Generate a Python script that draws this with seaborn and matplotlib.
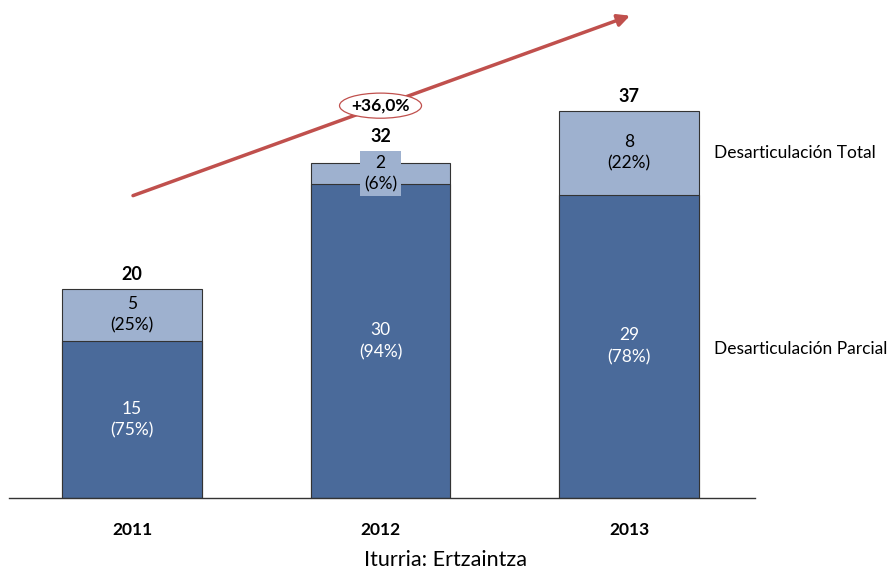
import matplotlib
matplotlib.use("Agg")
import matplotlib.pyplot as plt
import seaborn as sns
import pandas as pd
from matplotlib.patches import Ellipse

years = ["2011", "2012", "2013"]
parcial = [15, 30, 29]
total = [5, 2, 8]
parcial_pct = ["75%", "94%", "78%"]
total_pct = ["25%", "6%", "22%"]
sums = [20, 32, 37]
growth_label = "+36,0%"
legend_labels = ["Desarticulación Total", "Desarticulación Parcial"]
source = "Iturria: Ertzaintza"

dark = "#4A6A9A"
light = "#9EB1CF"
red = "#C0504D"

sns.set_theme(style="white")
plt.rcParams['font.family'] = ['Lato', 'DejaVu Sans']

df = pd.DataFrame({"year": years, "parcial": parcial, "total": total,
                   "sum": sums})

fig = plt.figure(figsize=(8.91, 5.72), dpi=100)
ax = fig.add_axes([0.0101, 0.1294, 0.8373, 0.8706])

sns.barplot(data=df, x="year", y="sum", color=light, width=0.56,
            edgecolor="#333333", linewidth=0.8, saturation=1, ax=ax)
sns.barplot(data=df, x="year", y="parcial", color=dark, width=0.56,
            edgecolor="#333333", linewidth=0.8, saturation=1, ax=ax)

ax.set_xlim(-0.495, 2.507)
ax.set_ylim(0, 47.6)
for s in ["top", "right", "left"]:
    ax.spines[s].set_visible(False)
ax.spines["bottom"].set_color("#333333")
ax.spines["bottom"].set_linewidth(1.0)
ax.set_yticks([])
ax.set_xlabel("")
ax.set_ylabel("")
ax.tick_params(axis="x", length=0, pad=17)
ax.set_xticks(range(len(years)))
ax.set_xticklabels(years, fontsize=12.5, fontweight="bold", color="black")

for i in range(len(years)):
    ax.text(i, parcial[i] / 2, f"{parcial[i]}\n({parcial_pct[i]})",
            ha="center", va="center", color="white", fontsize=12.5,
            linespacing=1.45)
    kw = {}
    off = 4
    if total[i] < 4:
        kw["bbox"] = dict(boxstyle="square,pad=0.2", fc=light, ec="none")
        off = 13
    ax.text(i, parcial[i] + total[i] / 2, f"{total[i]}\n({total_pct[i]})",
            ha="center", va="center", color="black", fontsize=12.5,
            linespacing=1.45, **kw)
    ax.annotate(str(sums[i]), (i, sums[i]), xytext=(0, off),
                textcoords="offset points", ha="center", va="bottom",
                fontsize=13, fontweight="bold", color="black")

# growth arrow
ax.annotate("", xy=(2.004, 46.1), xytext=(0.004, 28.9),
            arrowprops=dict(arrowstyle="-|>,head_length=0.6,head_width=0.3",
                            color=red, lw=2.5, shrinkA=0, shrinkB=0),
            annotation_clip=False)
ax.add_patch(Ellipse((1.0, 37.5), 0.33, 2.4, fc="white", ec=red, lw=0.9,
                     zorder=5, clip_on=False))
ax.text(1.0, 37.5, growth_label, ha="center", va="center", fontsize=12.5,
        fontweight="bold", color="black", zorder=6)

fig.text(714 / 891, 1 - 153 / 572, legend_labels[0], ha="left",
         va="center", fontsize=12.5, color="black")
fig.text(714 / 891, 1 - 349 / 572, legend_labels[1], ha="left",
         va="center", fontsize=12.5, color="black")
fig.text(445 / 891, 1 - 560 / 572, source, ha="center", va="center",
         fontsize=15.5, color="black")

fig.savefig("out.png", dpi=100)
